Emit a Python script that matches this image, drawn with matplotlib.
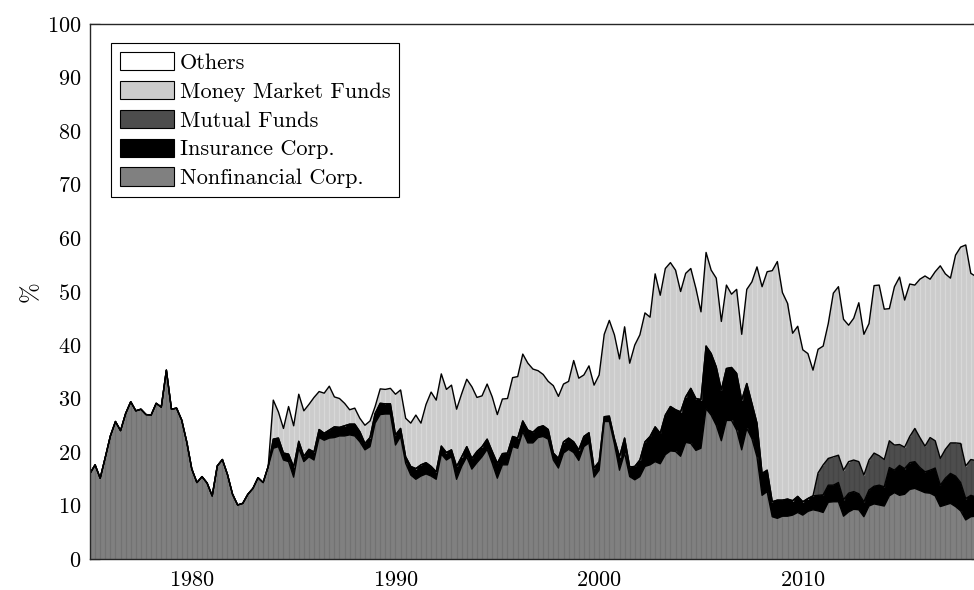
import numpy as np
import matplotlib
matplotlib.use("Agg")
from matplotlib import pyplot as plt
from matplotlib.patches import Patch

plt.rcParams['font.family'] = 'serif'
plt.rcParams['font.serif'] = ['cmr10']
plt.rcParams['mathtext.fontset'] = 'cm'
plt.rcParams['axes.formatter.use_mathtext'] = True

# quarterly shares (%) 1975Q1 .. 2018Q4
nonfin = [16.0, 17.6, 15.1, 19.0, 23.0, 25.7, 24.0, 27.2,
          29.4, 27.7, 28.0, 27.0, 26.9, 29.1, 28.4, 35.3,
          28.0, 28.2, 26.0, 21.9, 16.8, 14.3, 15.4, 14.2,
          11.8, 17.4, 18.6, 15.8, 12.1, 10.1, 10.4, 12.1,
          13.2, 15.2, 14.3, 17.3, 20.7, 21.0, 18.5, 18.2,
          15.3, 20.7, 18.2, 19.1, 18.5, 22.7, 22.2, 22.6,
          22.7, 23.0, 23.0, 23.2, 23.0, 21.9, 20.4, 21.0,
          25.4, 27.0, 27.1, 27.1, 21.3, 22.9, 17.9, 15.7,
          14.9, 15.5, 15.9, 15.5, 14.9, 19.6, 18.5, 19.1,
          14.9, 17.3, 19.1, 16.8, 18.0, 19.1, 20.5, 17.9,
          15.1, 17.6, 17.6, 21.0, 20.7, 23.8, 21.7, 21.7,
          22.7, 22.9, 22.4, 18.5, 17.0, 19.8, 20.5, 19.9,
          18.4, 21.0, 21.7, 15.3, 16.6, 25.7, 25.7, 21.5,
          16.6, 19.8, 15.4, 14.8, 15.4, 17.3, 17.6, 18.2,
          17.8, 19.5, 20.2, 20.1, 19.2, 21.8, 21.6, 20.3,
          20.7, 28.1, 26.9, 25.0, 22.1, 25.9, 25.9, 24.1,
          20.4, 24.4, 22.5, 19.1, 11.9, 12.6, 7.9, 7.6,
          8.0, 8.0, 8.2, 8.7, 8.2, 8.9, 9.2, 9.0,
          8.7, 10.6, 10.7, 10.7, 8.0, 8.8, 9.3, 9.2,
          7.9, 9.9, 10.3, 10.1, 9.9, 11.8, 12.4, 11.9,
          12.1, 13.0, 13.2, 12.8, 12.4, 12.3, 11.8, 9.8,
          10.1, 10.4, 9.8, 9.0, 7.3, 7.9, 8.0, 8.3]

insurance = [0.0] * 36 + [
    1.7, 1.6, 1.3, 1.4, 1.9, 1.3, 1.0, 1.4,
    1.5, 1.5, 1.3, 1.5, 2.0, 1.6, 1.9, 2.0,
    2.2, 1.9, 1.2, 1.7, 1.8, 2.1, 1.9, 1.9,
    1.9, 1.5, 1.2, 1.6, 2.0, 2.1, 2.1, 1.8,
    1.4, 1.5, 1.4, 1.3, 2.4, 1.8, 1.9, 2.0,
    2.1, 1.9, 1.9, 2.2, 2.8, 2.1, 2.2, 1.9,
    1.9, 2.0, 2.4, 2.0, 1.9, 2.0, 1.8, 1.3,
    1.8, 2.1, 2.1, 2.0, 2.0, 1.9, 1.9, 1.7,
    1.6, 0.9, 1.0, 1.0, 2.5, 2.8, 1.8, 2.5,
    3.1, 4.6, 5.3, 6.5, 5.7, 7.4, 8.3, 7.8,
    8.3, 8.5, 10.3, 9.7, 9.1, 11.7, 11.5, 10.9,
    9.5, 9.7, 9.9, 10.6, 9.3, 8.4, 6.6, 6.3,
    4.1, 4.0, 2.8, 3.4, 3.0, 3.2, 2.7, 3.0,
    2.5, 2.4, 2.6, 2.9, 3.3, 3.2, 3.1, 3.6,
    3.1, 3.5, 3.3, 3.0, 2.8, 3.0, 3.3, 3.7,
    3.6, 5.3, 4.2, 5.6, 4.8, 5.0, 5.0, 4.3,
    3.9, 4.3, 5.2, 4.0, 5.0, 5.6, 5.7, 5.3,
    4.0, 4.0, 3.6, 3.5]

mutual = [0.0] * 143 + [
    4.2, 5.6, 5.0, 5.3, 5.1, 5.5, 5.9, 5.9, 6.0,
    5.0, 5.6, 6.2, 5.5, 5.1, 5.0, 4.7, 3.9,
    4.0, 4.9, 6.2, 5.6, 4.8, 6.1, 5.1, 5.0,
    5.4, 5.7, 6.2, 7.3, 6.1, 6.7, 6.8, 6.7]

mmf = [0.0] * 36 + [
    7.3, 4.9, 4.6, 8.9, 7.7, 8.8, 8.5, 8.4,
    10.2, 7.1, 7.5, 8.2, 5.6, 5.4, 4.2, 2.7,
    3.0, 2.5, 3.4, 3.1, 1.3, 2.7, 2.7, 2.9,
    7.6, 7.2, 7.2, 8.1, 10.0, 7.8, 10.9, 13.9,
    13.4, 13.5, 11.8, 12.1, 10.7, 11.8, 12.6, 13.4,
    10.1, 9.5, 10.3, 10.2, 9.1, 10.2, 10.2, 11.0,
    11.5, 12.5, 12.5, 11.8, 10.6, 9.6, 9.0, 12.6,
    11.6, 10.8, 10.6, 15.2, 13.4, 11.5, 12.5, 15.5,
    16.2, 15.4, 17.9, 19.4, 18.3, 20.8, 19.4, 22.7,
    23.4, 24.1, 22.3, 28.6, 25.8, 27.4, 26.9, 26.1,
    22.5, 23.1, 22.4, 20.6, 16.4, 17.5, 15.6, 16.6,
    12.8, 15.6, 13.7, 15.7, 12.3, 17.6, 22.7, 29.2,
    34.9, 37.1, 43.2, 44.6, 38.8, 36.6, 31.3, 31.8,
    28.4, 27.1, 23.5, 23.1, 22.2, 25.2, 30.6, 31.5,
    28.2, 25.5, 26.5, 29.7, 26.3, 25.5, 31.3, 31.9,
    28.1, 24.7, 29.6, 31.3, 27.5, 28.5, 26.8, 29.6,
    31.8, 29.6, 31.6, 36.0, 32.8, 30.8, 35.1, 36.7,
    41.3, 34.8, 34.4, 35.0]

t = 1975 + 0.25 * np.arange(len(nonfin))
others = 100 - (np.array(nonfin) + np.array(insurance) + np.array(mutual) + np.array(mmf))

series = [nonfin, insurance, mutual, mmf, others]
names = ['Nonfinancial Corp.', 'Insurance Corp.', 'Mutual Funds', 'Money Market Funds', 'Others']
colors = ['#808080', '#000000', '#4d4d4d', '#cccccc', '#ffffff']
stripes = ['#727272', None, '#454545', '#d8d8d8', None]

fig = plt.figure(figsize=(9.74, 5.90), dpi=100)
ax = fig.add_axes([90/974, 31/590, 891/974, 535/590])

base = np.zeros(len(t))
for vals, c, sc in zip(series, colors, stripes):
    top = base + np.array(vals)
    ax.fill_between(t, base, top, facecolor=c, edgecolor='none', zorder=1)
    if sc is not None:
        m = top - base > 0.05
        ax.vlines(t[m], base[m], top[m], colors=sc, lw=0.9, zorder=1.2)
    base = top

base = np.zeros(len(t))
for vals in series[:-1]:
    base = base + np.array(vals)
    ax.plot(t, base, color='k', lw=1.0, zorder=2)

ax.set_xlim(1975, 2018.75)
ax.set_ylim(0, 100)
ax.set_yticks(np.arange(0, 101, 10))
ax.set_xticks([1980, 1990, 2000, 2010])
ax.yaxis.grid(True, linestyle=':', color='#d4d4d4', lw=0.9)
ax.xaxis.grid(True, linestyle='-', color='#eeeeee', lw=0.9)
ax.set_axisbelow(True)
ax.tick_params(direction='in', length=7, width=0.9, top=True, right=True,
               labelsize=16, color='#262626')
ax.tick_params(axis='x', pad=8)
ax.tick_params(axis='y', pad=6)
for s in ax.spines.values():
    s.set_color('#262626')
    s.set_linewidth(1.0)
    s.set_zorder(3)
ax.set_ylabel('%', fontsize=18, labelpad=4)

handles = [Patch(facecolor=c, edgecolor='k', lw=0.8) for c in colors[::-1]]
leg = ax.legend(handles, names[::-1], loc='upper left', bbox_to_anchor=(0.0236, 0.9645),
                borderaxespad=0, fontsize=16, handlelength=2.45, handleheight=0.9,
                handletextpad=0.25, labelspacing=0.36, borderpad=0.4,
                fancybox=False, framealpha=1, edgecolor='k')
leg.get_frame().set_linewidth(0.8)

plt.savefig('out.png', dpi=100)
